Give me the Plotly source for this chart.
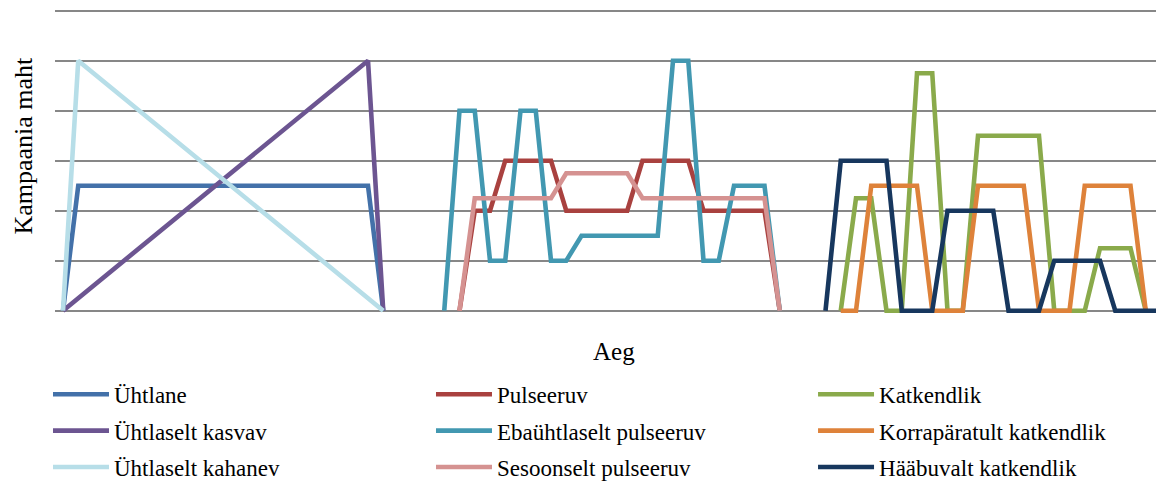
import plotly.graph_objects as go

# Time steps (categories on the "Aeg" axis)
aeg = list(range(73))

# Series values (start index on the time axis + values)
uhtlane_start = 0
uhtlane = [0, 2.5, 2.5, 2.5, 2.5, 2.5, 2.5, 2.5, 2.5, 2.5, 2.5, 2.5, 2.5, 2.5, 2.5, 2.5, 2.5, 2.5, 2.5, 2.5, 2.5, 0]

kasvav_start = 0
kasvav = [0, 0.25, 0.5, 0.75, 1, 1.25, 1.5, 1.75, 2, 2.25, 2.5, 2.75, 3, 3.25, 3.5, 3.75, 4, 4.25, 4.5, 4.75, 5, 0]

kahanev_start = 0
kahanev = [0, 5, 4.75, 4.5, 4.25, 4, 3.75, 3.5, 3.25, 3, 2.75, 2.5, 2.25, 2, 1.75, 1.5, 1.25, 1, 0.75, 0.5, 0.25, 0]

pulseeruv_start = 26
pulseeruv = [0, 2, 2, 3, 3, 3, 3, 2, 2, 2, 2, 2, 3, 3, 3, 3, 2, 2, 2, 2, 2, 0]

ebauhtlaselt_start = 25
ebauhtlaselt = [0, 4, 4, 1, 1, 4, 4, 1, 1, 1.5, 1.5, 1.5, 1.5, 1.5, 1.5, 5, 5, 1, 1, 2.5, 2.5, 2.5, 0]

sesoonselt_start = 26
sesoonselt = [0, 2.25, 2.25, 2.25, 2.25, 2.25, 2.25, 2.75, 2.75, 2.75, 2.75, 2.75, 2.25, 2.25, 2.25, 2.25, 2.25, 2.25, 2.25, 2.25, 2.25, 0]

katkendlik_start = 51
katkendlik = [0, 2.25, 2.25, 0, 0, 4.75, 4.75, 0, 0, 3.5, 3.5, 3.5, 3.5, 3.5, 0, 0, 0, 1.25, 1.25, 1.25, 0]

korraparatult_start = 51
korraparatult = [0, 0, 2.5, 2.5, 2.5, 2.5, 0, 0, 0, 2.5, 2.5, 2.5, 2.5, 0, 0, 0, 2.5, 2.5, 2.5, 2.5, 0]

haabuvalt_start = 50
haabuvalt = [0, 3, 3, 3, 3, 0, 0, 0, 2, 2, 2, 2, 0, 0, 0, 1, 1, 1, 1, 0, 0, 0, 0]

series = [
    ("Ühtlane", uhtlane_start, uhtlane, "#4371A9", "legend"),
    ("Ühtlaselt kasvav", kasvav_start, kasvav, "#6C5591", "legend"),
    ("Ühtlaselt kahanev", kahanev_start, kahanev, "#B7DEE8", "legend"),
    ("Pulseeruv", pulseeruv_start, pulseeruv, "#A9413F", "legend2"),
    ("Ebaühtlaselt pulseeruv", ebauhtlaselt_start, ebauhtlaselt, "#4298B1", "legend2"),
    ("Sesoonselt pulseeruv", sesoonselt_start, sesoonselt, "#D59291", "legend2"),
    ("Katkendlik", katkendlik_start, katkendlik, "#8AAA4B", "legend3"),
    ("Korrapäratult katkendlik", korraparatult_start, korraparatult, "#DE823A", "legend3"),
    ("Hääbuvalt katkendlik", haabuvalt_start, haabuvalt, "#17375E", "legend3"),
]

fig = go.Figure()
for name, start, vals, color, leg in series:
    fig.add_trace(go.Scatter(
        x=aeg[start:start + len(vals)], y=vals, mode="lines", name=name,
        line=dict(color=color, width=4.6), legend=leg, legendgroup=name,
    ))

FONT = "Liberation Serif"
legend_common = dict(
    orientation="v", xanchor="left", yanchor="top", y=-0.192,
    font=dict(family=FONT, size=23, color="black"),
    bgcolor="rgba(0,0,0,0)", itemwidth=56, tracegroupgap=3.5,
)

fig.update_layout(
    width=1156, height=481,
    margin=dict(l=55, r=0, t=8, b=167, autoexpand=False),
    paper_bgcolor="white", plot_bgcolor="white",
    showlegend=True,
    legend=dict(x=-0.00636, **legend_common),
    legend2=dict(x=0.3415, **legend_common),
    legend3=dict(x=0.6885, **legend_common),
    xaxis=dict(range=[-0.5246, 71.672], showgrid=False, zeroline=False,
               showticklabels=False, showline=False, ticks=""),
    yaxis=dict(range=[-0.066, 6.054], tick0=0, dtick=1, showgrid=True,
               gridcolor="#878787", gridwidth=1.6, zeroline=False,
               showticklabels=False, showline=False, ticks=""),
    annotations=[
        dict(text="Kampaania maht", xref="paper", yref="paper", x=-0.0295, y=0.549,
             xanchor="center", yanchor="middle", textangle=-90, showarrow=False,
             font=dict(family=FONT, size=26, color="black")),
        dict(text="Aeg", xref="paper", yref="paper", x=(613.5 - 55) / 1101, y=-0.121,
             xanchor="center", yanchor="middle", showarrow=False,
             font=dict(family=FONT, size=25, color="black")),
    ],
)

fig.write_html("out.html")
